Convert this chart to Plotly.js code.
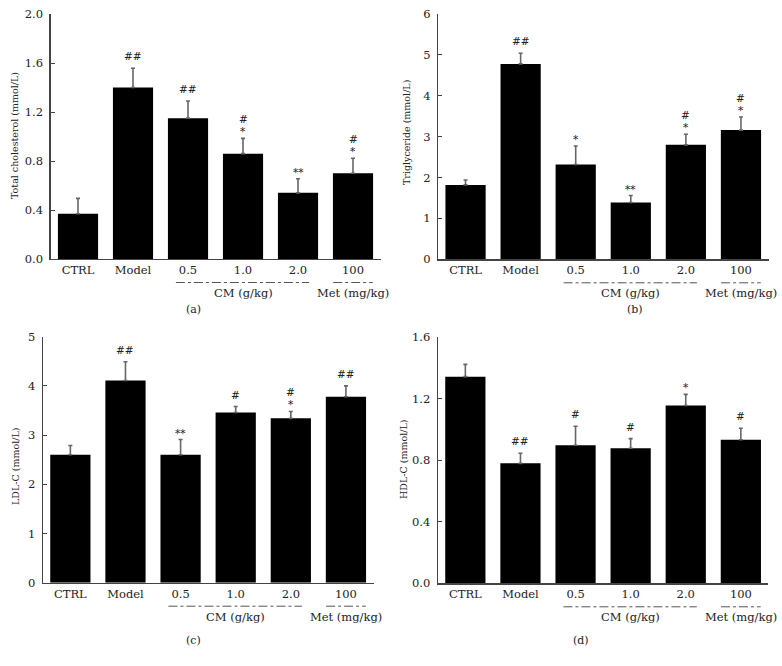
<!DOCTYPE html>
<html>
<head>
<meta charset="utf-8">
<script src="https://cdn.plot.ly/plotly-3.0.1.min.js"></script>
<style>html,body{margin:0;padding:0;background:#fff;}#chart{width:782px;height:666px;}</style>
</head>
<body>
<div id="chart"></div>
<script>
// ---- data ----
const categories = ['CTRL', 'Model', '0.5', '1.0', '2.0', '100'];

const tcMean = [0.37, 1.40, 1.15, 0.86, 0.54, 0.70];
const tcErr  = [0.125, 0.157, 0.14, 0.125, 0.115, 0.122];
const tcHash = ['', '##', '##', '#', '', '#'];
const tcStar = ['', '', '', '*', '**', '*'];

const tgMean = [1.82, 4.78, 2.32, 1.39, 2.80, 3.16];
const tgErr  = [0.12, 0.26, 0.45, 0.17, 0.26, 0.32];
const tgHash = ['', '##', '', '', '#', '#'];
const tgStar = ['', '', '*', '**', '*', '*'];

const ldlMean = [2.60, 4.11, 2.60, 3.46, 3.34, 3.78];
const ldlErr  = [0.19, 0.38, 0.31, 0.12, 0.14, 0.22];
const ldlHash = ['', '##', '', '#', '#', '##'];
const ldlStar = ['', '', '**', '', '*', ''];

const hdlMean = [1.344, 0.780, 0.898, 0.878, 1.156, 0.934];
const hdlErr  = [0.080, 0.066, 0.123, 0.063, 0.073, 0.074];
const hdlHash = ['', '##', '#', '#', '', '#'];
const hdlStar = ['', '', '', '', '*', ''];

const yTitles = ['Total cholesterol (mmol/L)', 'Triglyceride (mmol/L)', 'LDL-C (mmol/L)', 'HDL-C (mmol/L)'];
const panelLabels = ['(a)', '(b)', '(c)', '(d)'];
const groupLabels = ['CM (g/kg)', 'Met (mg/kg)'];

// ---- layout helpers ----
const W = 782, H = 666;
const FONT = 'DejaVu Serif, Liberation Serif, serif';
const TXT = '#222';
const panels = [
  {mean: tcMean, err: tcErr, hash: tcHash, star: tcStar, range: [0, 2], dtick: 0.4, fmt: '.1f',
   px: [50.5, 380.5], py: [14, 259], title: [15, 136], label: [193, 310]},
  {mean: tgMean, err: tgErr, hash: tgHash, star: tgStar, range: [0, 6], dtick: 1, fmt: 'd',
   px: [438, 768.5], py: [14, 259.3], title: [406, 133], label: [635, 310]},
  {mean: ldlMean, err: ldlErr, hash: ldlHash, star: ldlStar, range: [0, 5], dtick: 1, fmt: 'd',
   px: [42.8, 373.5], py: [336.7, 582.7], title: [15, 467], label: [193, 640]},
  {mean: hdlMean, err: hdlErr, hash: hdlHash, star: hdlStar, range: [0, 1.6], dtick: 0.4, fmt: '.1f',
   px: [437.8, 768.4], py: [337.3, 583.3], title: [403, 460], label: [581, 640]}
];

const traces = [];
const layout = {
  width: W, height: H,
  margin: {l: 0, r: 0, t: 0, b: 0},
  paper_bgcolor: '#fff', plot_bgcolor: '#fff',
  showlegend: false,
  bargap: 0.27,
  font: {family: FONT, size: 11.5, color: TXT},
  annotations: [],
  shapes: []
};

const catIdx = (c) => categories.indexOf(c);
const domFrac = (xCat) => (xCat + 0.5) / categories.length;

panels.forEach((p, i) => {
  const n = i === 0 ? '' : String(i + 1);
  const xa = 'x' + n, ya = 'y' + n;
  traces.push({
    type: 'bar', x: categories, y: p.mean,
    xaxis: xa, yaxis: ya,
    marker: {color: '#000', line: {width: 0}},
    error_y: {type: 'data', symmetric: false, array: p.err, arrayminus: p.err.map(() => 0),
              color: '#666', thickness: 1.6, width: 2},
    hoverinfo: 'none'
  });
  layout['xaxis' + n] = {
    domain: [p.px[0] / W, p.px[1] / W], anchor: ya,
    type: 'category', range: [-0.5, 5.5],
    showline: true, linecolor: '#444', linewidth: 1.2,
    ticks: '', showgrid: false, zeroline: false,
    tickfont: {family: FONT, size: 11.5, color: TXT},
    fixedrange: true
  };
  layout['yaxis' + n] = {
    domain: [(H - p.py[1]) / H, (H - p.py[0]) / H], anchor: xa,
    range: p.range, dtick: p.dtick, tick0: 0, tickformat: p.fmt,
    showline: true, linecolor: '#444', linewidth: 1.2,
    ticks: 'inside', ticklen: 4, tickcolor: '#444', tickwidth: 1,
    ticklabelstandoff: 4,
    showgrid: false, zeroline: false,
    tickfont: {family: FONT, size: 11.5, color: TXT},
    fixedrange: true
  };
  // significance marks (x given as category index)
  categories.forEach((c, k) => {
    const top = p.mean[k] + p.err[k];
    if (p.star[k]) {
      layout.annotations.push({xref: xa, yref: ya, x: k, y: top, text: p.star[k],
        showarrow: false, yanchor: 'bottom', yshift: -1,
        font: {family: FONT, size: 10.5, color: TXT}});
    }
    if (p.hash[k]) {
      layout.annotations.push({xref: xa, yref: ya, x: k, y: top, text: p.hash[k],
        showarrow: false, yanchor: 'bottom', yshift: p.star[k] ? 11 : 4,
        font: {family: FONT, size: 10.5, color: TXT}});
    }
  });
  // group lines (dash-dot) under tick labels
  const xdr = xa + ' domain', ydr = ya + ' domain';
  [[catIdx('0.5') - 0.22, catIdx('2.0') + 0.2], [catIdx('100') - 0.36, catIdx('100') + 0.36]].forEach(seg => {
    layout.shapes.push({type: 'line', xref: xdr, yref: ydr,
      x0: domFrac(seg[0]), x1: domFrac(seg[1]),
      ysizemode: 'pixel', yanchor: 0, y0: -23.5, y1: -23.5,
      line: {color: '#555', width: 1, dash: 'dashdot'}});
  });
  layout.annotations.push({xref: xdr, yref: ydr, x: domFrac(catIdx('1.0')), y: 0, yshift: -34,
    text: groupLabels[0], showarrow: false, yanchor: 'middle', xanchor: 'center',
    font: {family: FONT, size: 11.5, color: TXT}});
  layout.annotations.push({xref: xdr, yref: ydr, x: domFrac(catIdx('100')), y: 0, yshift: -34,
    text: groupLabels[1], showarrow: false, yanchor: 'middle', xanchor: 'center',
    font: {family: FONT, size: 11.5, color: TXT}});
  // y title
  layout.annotations.push({xref: 'paper', yref: 'paper', x: p.title[0] / W, y: (H - p.title[1]) / H,
    text: yTitles[i], textangle: -90, showarrow: false, xanchor: 'center', yanchor: 'middle',
    font: {family: FONT, size: 9.5, color: TXT}});
  // panel label
  layout.annotations.push({xref: 'paper', yref: 'paper', x: p.label[0] / W, y: (H - p.label[1]) / H,
    text: panelLabels[i], showarrow: false, xanchor: 'center', yanchor: 'middle',
    font: {family: FONT, size: 11, color: TXT}});
});

Plotly.newPlot('chart', traces, layout, {displayModeBar: false, staticPlot: true});
</script>
</body>
</html>
